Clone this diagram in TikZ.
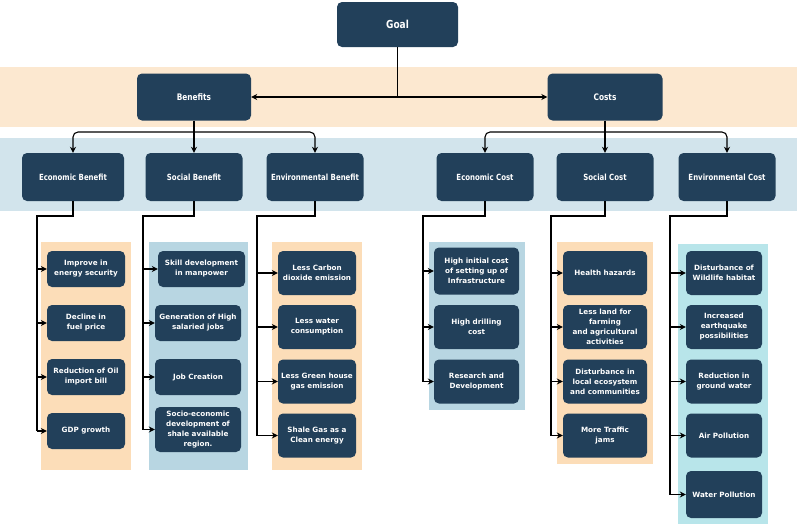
\documentclass[tikz,border=0pt]{standalone}
\usepackage{fontspec}
\setmainfont{DejaVu Sans}
\newfontfamily\narrowfont{DejaVu Sans}[FakeStretch=0.82]
\usetikzlibrary{arrows.meta}
\definecolor{navy}{HTML}{22405A}
\definecolor{peach}{HTML}{FCE8D0}
\definecolor{mist}{HTML}{D2E4EC}
\definecolor{leafpeach}{HTML}{FCDDB8}
\definecolor{leafblue}{HTML}{B8D6E2}
\definecolor{leafcyan}{HTML}{B8E5EA}
\tikzstyle{darkbox}=[fill=navy,text=white,rounded corners=5pt,align=center,inner sep=1pt]
\tikzstyle{headbox}=[darkbox,font=\narrowfont\bfseries\fontsize{8.5}{9.5}\selectfont,minimum width=97pt,minimum height=48pt]
\tikzstyle{leafbox}=[darkbox,font=\bfseries\fontsize{7.2}{10}\selectfont,minimum height=44pt]
\tikzstyle{trunkline}=[line width=1.1pt]
\tikzstyle{arrowlink}=[trunkline,-{Stealth[length=6pt,width=6pt]}]
\tikzstyle{bothlink}=[trunkline,{Stealth[length=6pt,width=6pt]}-{Stealth[length=6pt,width=6pt]}]

\begin{document}
\begin{tikzpicture}[x=1pt,y=-1pt]
\useasboundingbox (0,0) rectangle (797,525);
% bands behind the levels
\fill[peach] (0,67) rectangle (797,127);
\fill[mist] (0,138) rectangle (797,211);
\fill[leafpeach] (41,242) rectangle (131,470);
\fill[leafblue] (149,242) rectangle (248,470);
\fill[leafpeach] (272,242) rectangle (362,470);
\fill[leafblue] (429,242) rectangle (525,410);
\fill[leafpeach] (557,242) rectangle (653,464);
\fill[leafcyan] (678,244) rectangle (768,524);

% top levels
\node[headbox,minimum width=121pt,minimum height=45pt,font=\narrowfont\bfseries\fontsize{11}{12}\selectfont] (goal) at (397.5,24.5) {Goal};
\node[headbox,minimum width=114pt,minimum height=47pt,font=\narrowfont\bfseries\fontsize{9}{10}\selectfont] (benefits) at (194,97) {Benefits};
\node[headbox,minimum width=115pt,minimum height=47pt,font=\narrowfont\bfseries\fontsize{9}{10}\selectfont] (costs) at (605,97) {Costs};

\node[headbox,minimum width=102pt] (ecoben) at (73,177) {Economic Benefit};
\node[headbox] (socben) at (194,177) {Social Benefit};
\node[headbox] (envben) at (315,177) {Environmental Benefit};
\node[headbox] (ecocost) at (485,177) {Economic Cost};
\node[headbox] (soccost) at (605,177) {Social Cost};
\node[headbox] (envcost) at (727,177) {Environmental Cost};

% economic benefit
\node[leafbox,minimum width=78pt,minimum height=36pt] (ecb1) at (86,269) {Improve in\\energy security};
\node[leafbox,minimum width=78pt,minimum height=36pt] (ecb2) at (86,323) {Decline in\\fuel price};
\node[leafbox,minimum width=78pt,minimum height=36pt] (ecb3) at (86,377) {Reduction of Oil\\import bill};
\node[leafbox,minimum width=78pt,minimum height=36pt] (ecb4) at (86,431) {GDP growth};

% social benefit
\node[leafbox,minimum width=87pt,minimum height=36pt] (scb1) at (201.5,269) {Skill development\\in manpower};
\node[leafbox,minimum width=86pt,minimum height=36pt] (scb2) at (198,323) {Generation of High\\salaried jobs};
\node[leafbox,minimum width=86pt,minimum height=36pt] (scb3) at (198,377) {Job Creation};
\node[leafbox,minimum width=86pt,minimum height=45pt] (scb4) at (198,429.5) {Socio-economic\\development of\\shale available\\region.};

% environmental benefit
\node[leafbox,minimum width=78pt] (enb1) at (317,273) {Less Carbon\\dioxide emission};
\node[leafbox,minimum width=78pt] (enb2) at (317,327) {Less water\\consumption};
\node[leafbox,minimum width=78pt] (enb3) at (317,381.5) {Less Green house\\gas emission};
\node[leafbox,minimum width=78pt] (enb4) at (317,435.5) {Shale Gas as a\\Clean energy};

% economic cost
\node[leafbox,minimum width=85pt,minimum height=47pt] (ecc1) at (476.5,271) {High initial cost\\of setting up of\\Infrastructure};
\node[leafbox,minimum width=85pt] (ecc2) at (476.5,327) {High drilling\\cost};
\node[leafbox,minimum width=85pt] (ecc3) at (476.5,381.5) {Research and\\Development};

% social cost
\node[leafbox,minimum width=84pt] (scc1) at (605,273) {Health hazards};
\node[leafbox,minimum width=84pt] (scc2) at (605,327) {Less land for\\farming\\and agricultural\\activities};
\node[leafbox,minimum width=84pt] (scc3) at (605,381.5) {Disturbance in\\local ecosystem\\and communities};
\node[leafbox,minimum width=84pt] (scc4) at (605,435.5) {More Traffic\\jams};

% environmental cost
\node[leafbox,minimum width=76pt] (enc1) at (724,273) {Disturbance of\\Wildlife habitat};
\node[leafbox,minimum width=76pt] (enc2) at (724,327) {Increased\\earthquake\\possibilities};
\node[leafbox,minimum width=76pt] (enc3) at (724,381.5) {Reduction in\\ground water};
\node[leafbox,minimum width=76pt] (enc4) at (724,435.5) {Air Pollution};
\node[leafbox,minimum width=76pt,minimum height=47pt] (enc5) at (724,494.5) {Water Pollution};

% goal to benefits and costs
\coordinate (goaljoin) at (goal |- benefits);
\draw[trunkline] (goal) -- (goaljoin);
\draw[bothlink] (benefits) -- (costs);

% second level
\coordinate (benjoin) at (194,132);
\coordinate (costjoin) at (605,132);
\draw[arrowlink] (benefits) -- (socben);
\draw[arrowlink,rounded corners=5pt] (benjoin) -| (ecoben);
\draw[arrowlink,rounded corners=5pt] (benjoin) -| (envben);
\draw[arrowlink] (costs) -- (soccost);
\draw[arrowlink,rounded corners=5pt] (costjoin) -| (ecocost);
\draw[arrowlink,rounded corners=5pt] (costjoin) -| (envcost);

% trunks down to the leaves
\coordinate (ecbturn) at (37,216);
\coordinate (scbturn) at (143,216);
\coordinate (enbturn) at (257,216);
\coordinate (eccturn) at (423,216);
\coordinate (sccturn) at (551,216);
\coordinate (encturn) at (670,216);
\draw[trunkline] (ecoben) |- (ecbturn) -- (ecbturn |- ecb4);
\draw[trunkline] (socben) |- (scbturn) -- (scbturn |- scb4);
\draw[trunkline] (envben) |- (enbturn) -- (enbturn |- enb4);
\draw[trunkline] (ecocost) |- (eccturn) -- (eccturn |- ecc3);
\draw[trunkline] (soccost) |- (sccturn) -- (sccturn |- scc4);
\draw[trunkline] (envcost) |- (encturn) -- (encturn |- enc5);
\foreach \leaf in {ecb1,ecb2,ecb3,ecb4} \draw[arrowlink] (ecbturn |- \leaf) -- (\leaf);
\foreach \leaf in {scb1,scb2,scb3,scb4} \draw[arrowlink] (scbturn |- \leaf) -- (\leaf);
\foreach \leaf in {enb1,enb2,enb3,enb4} \draw[arrowlink] (enbturn |- \leaf) -- (\leaf);
\foreach \leaf in {ecc1,ecc2,ecc3} \draw[arrowlink] (eccturn |- \leaf) -- (\leaf);
\foreach \leaf in {scc1,scc2,scc3,scc4} \draw[arrowlink] (sccturn |- \leaf) -- (\leaf);
\foreach \leaf in {enc1,enc2,enc3,enc4,enc5} \draw[arrowlink] (encturn |- \leaf) -- (\leaf);
\end{tikzpicture}
\end{document}
